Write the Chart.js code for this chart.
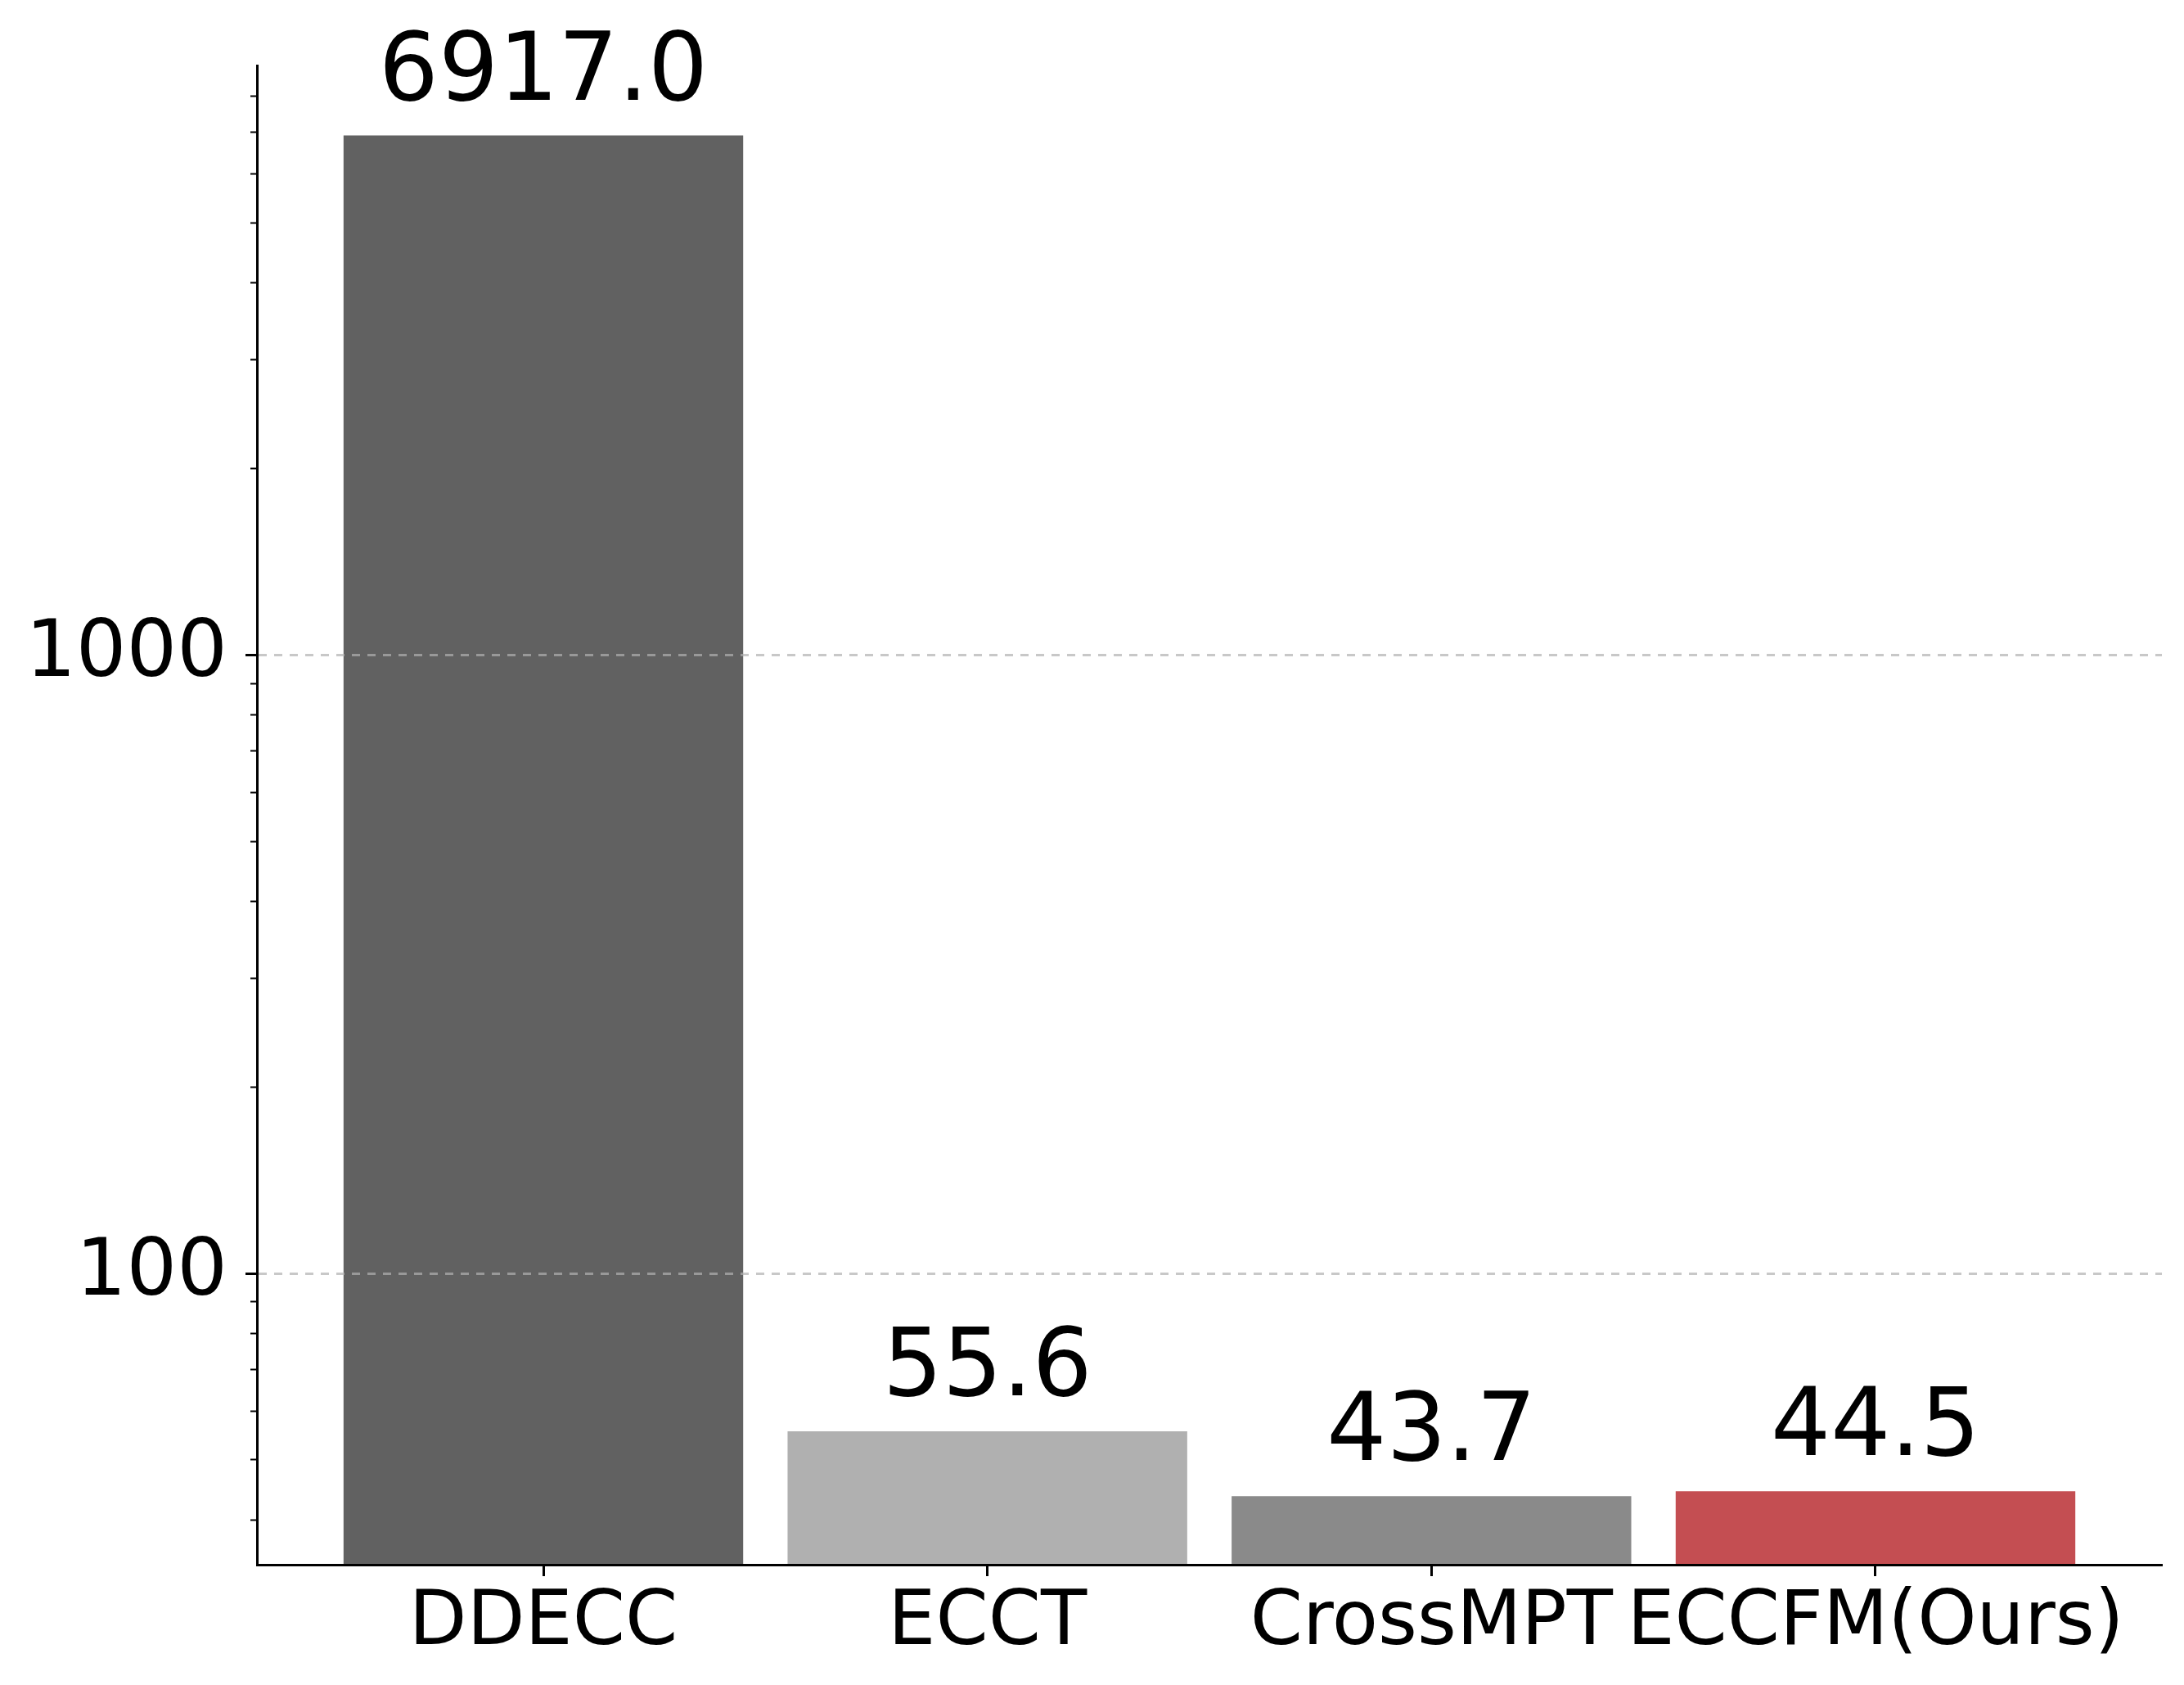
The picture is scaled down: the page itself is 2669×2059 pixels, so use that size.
<!DOCTYPE html>
<html>
<head>
<meta charset="utf-8">
<script src="https://cdn.jsdelivr.net/npm/chart.js@4/dist/chart.umd.min.js"></script>
<style>
  html, body { margin: 0; padding: 0; background: #ffffff; }
  #c { display: block; }
</style>
</head>
<body>
<canvas id="c" width="2669" height="2059"></canvas>
<script>
// ---- data ----
const categories = ["DDECC", "ECCT", "CrossMPT", "ECCFM(Ours)"];
const values = [6917.0, 55.6, 43.7, 44.5];
const barColors = ["#616161", "#b0b0b0", "#8a8a8a", "#c44e52"];
const majorTicks = [100, 1000];
const majorTickLabels = ["100", "1000"];
const minorTicks = [40, 50, 60, 70, 80, 90, 200, 300, 400, 500, 600, 700, 800, 900, 2000, 3000, 4000, 5000, 6000, 7000, 8000];
const yMin = 33.85;
const yMax = 8970;
const xMin = -0.645;
const xMax = 3.645;

const FONT = "'DejaVu Sans', 'Liberation Sans', sans-serif";

const valueLabelPlugin = {
  id: 'valueLabels',
  afterDatasetsDraw(chart) {
    const ctx = chart.ctx;
    const meta = chart.getDatasetMeta(0);
    ctx.save();
    ctx.font = "115px " + FONT;
    ctx.fillStyle = "#000000";
    ctx.textAlign = "center";
    ctx.textBaseline = "alphabetic";
    meta.data.forEach((bar, i) => {
      ctx.fillText(values[i].toFixed(1), bar.x, bar.y - 44);
    });
    ctx.restore();
  }
};

const chart = new Chart(document.getElementById('c'), {
  type: 'bar',
  data: {
    datasets: [{
      data: values.map((v, i) => ({ x: i, y: v })),
      backgroundColor: barColors,
      borderWidth: 0,
      barPercentage: 0.9,
      categoryPercentage: 1.0,
      yAxisID: 'y',
      xAxisID: 'x'
    }]
  },
  options: {
    responsive: false,
    animation: false,
    devicePixelRatio: 1,
    layout: { padding: { top: 78, right: 27, bottom: 0, left: 0 } },
    plugins: { legend: { display: false }, tooltip: { enabled: false } },
    scales: {
      x: {
        type: 'linear',
        position: 'bottom',
        offset: false,
        min: xMin,
        max: xMax,
        afterBuildTicks: (scale) => { scale.ticks = categories.map((c, i) => ({ value: i })); },
        afterFit: (scale) => { scale.height = 147; },
        ticks: {
          autoSkip: false,
          maxRotation: 0,
          minRotation: 0,
          padding: 4,
          color: '#000000',
          font: { family: FONT, size: 92 },
          callback: (v) => categories[v] !== undefined ? categories[v] : ''
        },
        grid: {
          display: true,
          offset: false,
          drawOnChartArea: false,
          drawTicks: true,
          tickLength: 14,
          tickWidth: 3,
          tickColor: '#000000'
        },
        border: { display: true, color: '#000000', width: 3, z: 1 }
      },
      yMinor: {
        type: 'logarithmic',
        position: 'left',
        weight: 0,
        min: yMin,
        max: yMax,
        afterBuildTicks: (scale) => { scale.ticks = minorTicks.map(v => ({ value: v })); },
        afterFit: (scale) => { scale.width = 0; },
        ticks: { display: false },
        grid: {
          display: true,
          drawOnChartArea: false,
          drawTicks: true,
          tickLength: 8,
          tickWidth: 2,
          tickColor: '#000000'
        },
        border: { display: false }
      },
      y: {
        type: 'logarithmic',
        position: 'left',
        weight: 1,
        min: yMin,
        max: yMax,
        afterBuildTicks: (scale) => { scale.ticks = majorTicks.map(v => ({ value: v })); },
        afterFit: (scale) => { scale.width = 314; },
        ticks: {
          autoSkip: false,
          padding: 22,
          color: '#000000',
          font: { family: FONT, size: 97 },
          callback: (v) => { const k = majorTicks.indexOf(v); return k >= 0 ? majorTickLabels[k] : ''; }
        },
        grid: {
          display: true,
          drawOnChartArea: true,
          drawTicks: true,
          tickLength: 14,
          tickWidth: 3,
          tickColor: '#000000',
          color: 'rgba(176,176,176,0.7)',
          lineWidth: 3,
          z: 1
        },
        border: { display: true, color: '#000000', width: 3, dash: [10, 9], z: 1 }
      }
    }
  },
  plugins: [valueLabelPlugin]
});
</script>
</body>
</html>
